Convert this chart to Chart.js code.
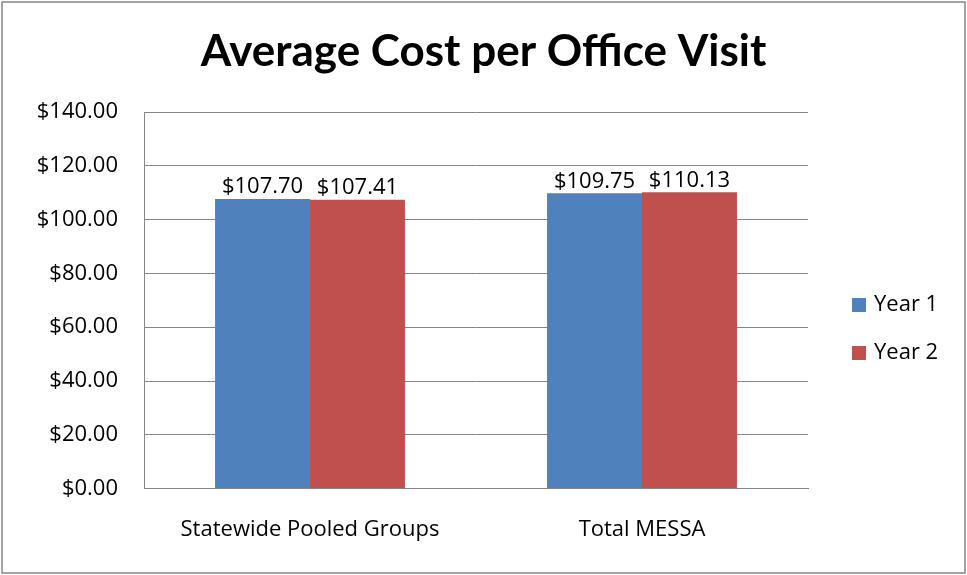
<!DOCTYPE html>
<html>
<head>
<meta charset="utf-8">
<script src="https://cdn.jsdelivr.net/npm/chart.js@4/dist/chart.umd.min.js"></script>
<style>
  html, body { margin: 0; padding: 0; background: #fff; }
  #wrap { width: 967px; height: 575px; }
</style>
</head>
<body>
<div id="wrap"><canvas id="costChart" width="967" height="575"></canvas></div>
<script>
const categories = ['Statewide Pooled Groups', 'Total MESSA'];
const year1 = [107.70, 109.75];
const year2 = [107.41, 110.13];
const seriesNames = ['Year 1', 'Year 2'];
const chartTitle = 'Average Cost per Office Visit';

const FONT = '"Open Sans", Lato, sans-serif';
const TXT = 22;
const money = v => '$' + Number(v).toFixed(2);

// title centred on the whole canvas (not just the plot)
const wideTitle = {
  id: 'wideTitle',
  afterDraw(chart) {
    const ctx = chart.ctx;
    ctx.save();
    ctx.font = 'bold 44px Lato, "Open Sans", sans-serif';
    ctx.fillStyle = '#000';
    ctx.textAlign = 'center';
    ctx.textBaseline = 'middle';
    ctx.fillText(chartTitle, chart.width / 2, 52);
    ctx.restore();
  }
};

// value labels above each bar
const barLabels = {
  id: 'barLabels',
  afterDatasetsDraw(chart) {
    const ctx = chart.ctx;
    ctx.save();
    ctx.font = TXT + 'px ' + FONT;
    ctx.fillStyle = '#000';
    ctx.textAlign = 'center';
    ctx.textBaseline = 'bottom';
    chart.data.datasets.forEach((ds, i) => {
      chart.getDatasetMeta(i).data.forEach((bar, j) => {
        ctx.fillText(money(ds.data[j]), bar.x, bar.y - 1);
      });
    });
    ctx.restore();
  }
};

// legend on the right, stacked like the original
const sideLegend = {
  id: 'sideLegend',
  afterDraw(chart) {
    const ctx = chart.ctx;
    const x = chart.chartArea.right + 44;
    ctx.save();
    ctx.font = TXT + 'px ' + FONT;
    ctx.textBaseline = 'middle';
    chart.data.datasets.forEach((ds, i) => {
      const cy = 305 + i * 48;
      ctx.fillStyle = ds.backgroundColor;
      ctx.fillRect(x, cy - 7, 14, 14);
      ctx.fillStyle = '#000';
      ctx.fillText(ds.label, x + 22, cy);
    });
    ctx.restore();
  }
};

// outer chart border
const frame = {
  id: 'frame',
  afterDraw(chart) {
    const ctx = chart.ctx;
    ctx.save();
    ctx.strokeStyle = '#868686';
    ctx.lineWidth = 1.5;
    ctx.strokeRect(2, 2, chart.width - 4, chart.height - 4);
    ctx.restore();
  }
};

new Chart(document.getElementById('costChart').getContext('2d'), {
  type: 'bar',
  data: {
    labels: categories,
    datasets: [
      { label: seriesNames[0], data: year1, backgroundColor: '#4F81BD', categoryPercentage: 0.572, barPercentage: 1 },
      { label: seriesNames[1], data: year2, backgroundColor: '#C0504D', categoryPercentage: 0.572, barPercentage: 1 },
    ],
  },
  options: {
    responsive: false,
    animation: false,
    layout: { padding: { left: 10, right: 159, top: 112, bottom: 4 } },
    plugins: {
      title: { display: false },
      legend: { display: false },
      tooltip: { enabled: false },
    },
    scales: {
      x: {
        grid: { display: false, drawTicks: false },
        border: { color: '#868686', width: 1 },
        ticks: { color: '#000', font: { family: FONT, size: TXT }, padding: 28 },
      },
      y: {
        min: 0,
        max: 140,
        afterFit: s => { s.width = 134; },
        grid: { color: '#868686', lineWidth: 1, drawTicks: false },
        border: { color: '#868686', width: 1 },
        ticks: {
          stepSize: 20,
          color: '#000',
          font: { family: FONT, size: TXT },
          padding: 26,
          callback: v => money(v),
        },
      },
    },
  },
  plugins: [wideTitle, barLabels, sideLegend, frame],
});
</script>
</body>
</html>
